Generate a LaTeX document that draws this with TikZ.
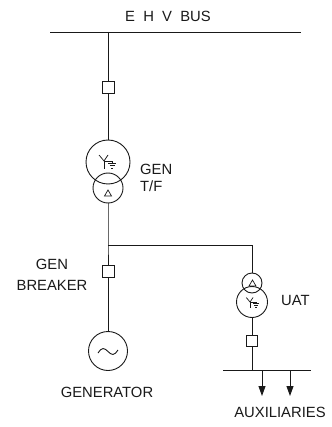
\documentclass[tikz,border=0pt]{standalone}
\usepackage{fontspec}
\setmainfont{Liberation Sans}
\usetikzlibrary{arrows.meta}
\tikzset{
  wire/.style={line width=0.9pt, draw=black!90},
  brk/.style={draw=black!90, line width=0.9pt, rectangle, minimum size=#1, inner sep=0pt},
  winding/.style={draw=black!90, line width=0.9pt, circle, minimum size=#1, inner sep=0pt},
  lbl/.style={font=\fontsize{14.8}{17}\selectfont, text=black!90, inner sep=0pt},
  ygnd/.pic={
    \draw[wire, line width=0.7pt] (-5,-6) -- (0,0) -- (4,-6);
    \draw[wire, line width=0.7pt] (0,0) -- (0,8);
    \draw[wire, line width=0.7pt] (0,0) -- (8,0) -- (8,2);
    \draw[wire, line width=0.7pt] (4,2) -- (12,2);
    \draw[wire, line width=0.7pt] (5.5,4.5) -- (10.5,4.5);
    \draw[wire, line width=0.7pt] (7,7) -- (9,7);
  },
  delta/.pic={
    \draw[wire, line width=0.7pt] (0,-3) -- (3.5,3) -- (-3.5,3) -- cycle;
  }
}
\begin{document}
\begin{tikzpicture}[x=1pt,y=-1pt]
\useasboundingbox (0,0) rectangle (331,427);
% EHV bus
\coordinate (busL) at (50,32);
\coordinate (busR) at (301,32);
\coordinate (tap) at (108,32);
\draw[wire] (busL) -- (busR);
\node[lbl] (ehv) at (168,16) {E\ \ H\ \ V\ \ BUS};
% main column
\node[brk=12pt] (brk1) at (108,87) {};
\node[winding=44pt] (tfbig) at (108,162) {};
\node[winding=30pt] (tfsm) at (108,188) {};
\pic at (104,161) {ygnd};
\pic at (108,193) {delta};
\node[lbl, align=left, anchor=west] (gtf) at (140,178) {GEN\\T/F};
\coordinate (junc) at (108,245);
\node[brk=12pt] (brk2) at (108,271) {};
\node[lbl, align=center] (gbrk) at (52,275) {GEN\\[4pt]BREAKER};
\node[winding=39pt] (gen) at (108,351) {};
\draw[wire] (98,353) sin (103,348.5) cos (108,351.5) sin (113,354.5) cos (118,350);
\node[lbl] (genlbl) at (107,392) {GENERATOR};
\draw[wire] (tap) -- (brk1.north);
\draw[wire] (brk1.south) -- (tfbig.north);
\draw[wire] (tfsm.south) -- (junc) -- (brk2.north);
\draw[wire] (brk2.south) -- (gen.north);
% UAT branch
\coordinate (uattop) at (252,245);
\node[winding=20pt] (uatsm) at (252,283) {};
\node[winding=31pt] (uatbig) at (252,302) {};
\pic at (252.5,283) {delta};
\pic[scale=0.75] at (250,302) {ygnd};
\node[lbl, anchor=west] (uatlbl) at (281,300) {UAT};
\node[brk=11pt] (brk3) at (252,340.5) {};
\coordinate (auxL) at (223,370);
\coordinate (auxR) at (311,370);
\coordinate (auxtap) at (252,370);
\coordinate (a1) at (262,370);
\coordinate (a1e) at (262,396);
\coordinate (a2) at (290,370);
\coordinate (a2e) at (290,396);
\draw[wire] (junc) -- (uattop) -- (uatsm.north);
\draw[wire] (uatbig.south) -- (brk3.north);
\draw[wire] (brk3.south) -- (auxtap);
\draw[wire] (auxL) -- (auxR);
\draw[wire, -{Triangle[length=10pt,width=7pt]}] (a1) -- (a1e);
\draw[wire, -{Triangle[length=10pt,width=7pt]}] (a2) -- (a2e);
\node[lbl] (auxlbl) at (280,412) {AUXILIARIES};
\end{tikzpicture}
\end{document}
